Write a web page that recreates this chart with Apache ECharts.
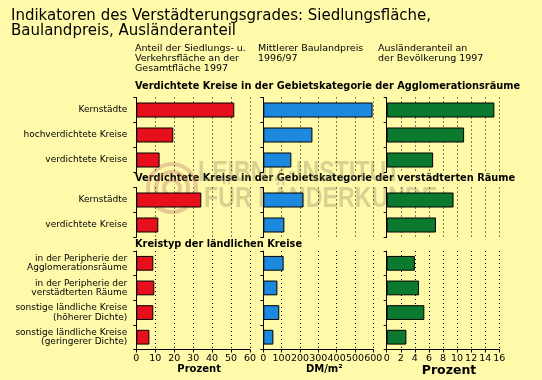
<!DOCTYPE html>
<html>
<head>
<meta charset="utf-8">
<script src="https://cdn.jsdelivr.net/npm/echarts@6/dist/echarts.min.js"></script>
<style>
html,body{margin:0;padding:0;background:#fffaaa;}
#chart{width:542px;height:380px;}
</style>
</head>
<body>
<div id="chart"></div>
<script>
// ---- data ----
const sec1Cats = ['Kernstädte', 'hochverdichtete Kreise', 'verdichtete Kreise'];
const sec2Cats = ['Kernstädte', 'verdichtete Kreise'];
const sec3Cats = ['in der Peripherie der\nAgglomerationsräume', 'in der Peripherie der\nverstädterten Räume', 'sonstige ländliche Kreise\n(höherer Dichte)', 'sonstige ländliche Kreise\n(geringerer Dichte)'];

const flaeche1 = [51.7, 19.5, 12.3];
const flaeche2 = [34.3, 11.6];
const flaeche3 = [9.0, 9.5, 9.0, 6.9];

const bauland1 = [596, 268, 153];
const bauland2 = [219, 115];
const bauland3 = [111, 77, 87, 55];

const auslaender1 = [15.3, 11.0, 6.6];
const auslaender2 = [9.5, 7.0];
const auslaender3 = [4.0, 4.6, 5.35, 2.8];

const sectionTitles = ['Verdichtete Kreise in der Gebietskategorie der Agglomerationsräume', 'Verdichtete Kreise in der Gebietskategorie der verstädterten Räume', 'Kreistyp der ländlichen Kreise'];
const columnTitles = ['Anteil der Siedlungs- u.\nVerkehrsfläche an der\nGesamtfläche 1997', 'Mittlerer Baulandpreis\n1996/97', 'Ausländeranteil an\nder Bevölkerung 1997'];
const axisNames = ['Prozent', 'DM/m²', 'Prozent'];
const axisMax = [60, 600, 16];
const axisInterval = [10, 100, 2];

// ---- layout ----
const FONT = 'DejaVu Sans';
const cols = [{left: 136.3, width: 113.7}, {left: 263.3, width: 110}, {left: 386.7, width: 112.6}];
const rows = [{top: 97.5, height: 75}, {top: 187.5, height: 50}, {top: 251, height: 98.5}];
const colors = ['#e5101b', '#1c88de', '#0b7a2f'];
const catsByRow = [sec1Cats, sec2Cats, sec3Cats];
const dataByRC = [
  [flaeche1, bauland1, auslaender1],
  [flaeche2, bauland2, auslaender2],
  [flaeche3, bauland3, auslaender3]
];

const grids = [], xAxes = [], yAxes = [], series = [];
for (let r = 0; r < 3; r++) {
  for (let c = 0; c < 3; c++) {
    const idx = r * 3 + c;
    const bottom = r === 2;
    grids.push({left: cols[c].left, width: cols[c].width, top: rows[r].top, height: rows[r].height, containLabel: false});
    xAxes.push({
      type: 'value', gridIndex: idx, min: 0, max: axisMax[c], interval: axisInterval[c],
      axisLine: {show: bottom, lineStyle: {color: '#000', width: 1}},
      axisTick: {show: bottom, length: 3, lineStyle: {color: '#000'}},
      axisLabel: {show: bottom, color: '#000', fontFamily: FONT, fontSize: 9.5, margin: 4, hideOverlap: false, showMinLabel: true, showMaxLabel: true},
      splitLine: {show: true, lineStyle: {color: '#000', width: 1, type: [1, 3]}},
      name: bottom ? axisNames[c] : '',
      nameLocation: 'middle',
      nameGap: c === 2 ? 14 : 15,
      nameTextStyle: {color: '#000', fontFamily: FONT, fontWeight: 'bold', fontSize: c === 2 ? 12.5 : 10, padding: [0, 0, 0, 12]}
    });
    yAxes.push({
      type: 'category', gridIndex: idx, inverse: true, data: catsByRow[r],
      axisLine: {show: true, lineStyle: {color: '#000', width: 1}},
      axisTick: {show: true, length: 3, lineStyle: {color: '#000'}},
      axisLabel: {show: c === 0, color: '#000', fontFamily: FONT, fontSize: 9, lineHeight: 9.5, margin: 9, interval: 0},
      splitLine: {show: false}
    });
    series.push({
      type: 'bar', xAxisIndex: idx, yAxisIndex: idx, data: dataByRC[r][c],
      barWidth: '60%',
      itemStyle: {color: colors[c], borderColor: '#000', borderWidth: 1},
      emphasis: {disabled: true}, silent: true
    });
  }
}

const graphics = [];
const secY = [88, 180, 246];
sectionTitles.forEach((t, i) => graphics.push({
  type: 'text', left: 135, top: secY[i] - 6.5,
  style: {text: t, fill: '#000', font: 'bold 9.8px "DejaVu Sans"'}
}));
const colX = [135, 258, 378];
columnTitles.forEach((t, i) => graphics.push({
  type: 'text', left: colX[i], top: 43.5,
  style: {text: t, fill: '#000', font: '9.5px "DejaVu Sans"', lineHeight: 10}
}));
// watermark
graphics.push({
  type: 'group', z: 100, silent: true,
  children: [
    {type: 'circle', shape: {cx: 172, cy: 188, r: 24}, style: {fill: 'none', stroke: 'rgba(190,110,100,0.35)', lineWidth: 4}},
    {type: 'circle', shape: {cx: 172, cy: 188, r: 16}, style: {fill: 'none', stroke: 'rgba(190,110,100,0.35)', lineWidth: 4}},
    {type: 'circle', shape: {cx: 172, cy: 188, r: 8}, style: {fill: 'none', stroke: 'rgba(190,110,100,0.35)', lineWidth: 4}},
    {type: 'text', x: 198, y: 158, scaleX: 0.8, style: {text: 'LEIBNIZ-INSTITUT', fill: 'rgba(140,135,100,0.35)', font: 'bold 29px "Liberation Sans"'}},
    {type: 'text', x: 204, y: 184, scaleX: 0.8, style: {text: 'FÜR LÄNDERKUNDE', fill: 'rgba(140,135,100,0.35)', font: 'bold 29px "Liberation Sans"'}}
  ]
});

const chart = echarts.init(document.getElementById('chart'), null, {renderer: 'canvas'});
chart.setOption({
  backgroundColor: '#fffaaa',
  animation: false,
  title: {
    text: 'Indikatoren des Verstädterungsgrades: Siedlungsfläche,\nBaulandpreis, Ausländeranteil',
    left: 6, top: 4,
    textStyle: {color: '#000', fontFamily: FONT, fontWeight: 'normal', fontSize: 15, lineHeight: 14.5}
  },
  grid: grids,
  xAxis: xAxes,
  yAxis: yAxes,
  series: series,
  graphic: graphics
});
</script>
</body>
</html>
